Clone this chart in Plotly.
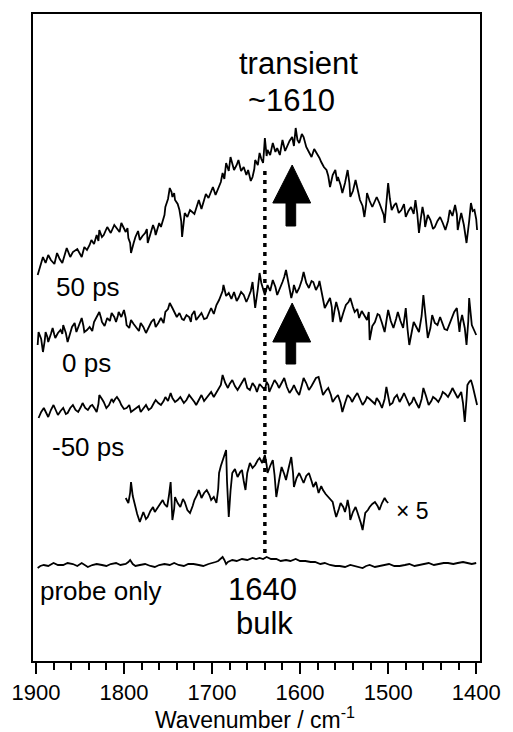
import plotly.graph_objects as go

# ---- data: (wavenumber cm^-1, signal in arbitrary stacked units) ----
trace_50ps = [
    (1898, 386), (1895, 396), (1892, 404), (1889, 398), (1886, 406), (1883, 401), (1879, 397), (1876, 408),
    (1873, 402), (1870, 398), (1867, 407), (1865, 413), (1861, 404), (1858, 409), (1853, 412), (1848, 404),
    (1845, 414), (1842, 411), (1839, 416), (1837, 421), (1834, 417), (1831, 426), (1829, 420), (1828, 431),
    (1825, 424), (1823, 426), (1819, 434), (1815, 428), (1811, 436), (1808, 433), (1805, 429), (1803, 438),
    (1800, 432), (1798, 429), (1796, 433), (1795, 423), (1793, 418), (1792, 408), (1789, 418), (1787, 424),
    (1784, 430), (1782, 421), (1779, 425), (1776, 428), (1774, 432), (1773, 418), (1770, 427), (1767, 436),
    (1765, 431), (1764, 426), (1762, 432), (1760, 438), (1758, 434), (1756, 441), (1754, 446), (1753, 454),
    (1750, 462), (1748, 473), (1746, 469), (1745, 464), (1743, 468), (1742, 461), (1739, 457), (1737, 451),
    (1735, 440), (1734, 424), (1732, 438), (1731, 448), (1728, 444), (1725, 451), (1720, 447), (1715, 461),
    (1712, 452), (1710, 458), (1707, 467), (1704, 463), (1701, 469), (1699, 474), (1696, 466), (1693, 473),
    (1690, 479), (1688, 488), (1686, 482), (1684, 498), (1681, 490), (1679, 504), (1677, 497), (1675, 491),
    (1672, 496), (1670, 501), (1667, 490), (1664, 494), (1661, 486), (1659, 491), (1656, 480), (1654, 484),
    (1652, 492), (1651, 501), (1648, 496), (1646, 508), (1644, 502), (1642, 498), (1641, 510), (1640, 523),
    (1638, 505), (1637, 511), (1634, 506), (1631, 518), (1628, 509), (1626, 513), (1623, 506), (1620, 521),
    (1617, 510), (1615, 514), (1612, 520), (1609, 524), (1607, 515), (1605, 533), (1603, 521), (1601, 518),
    (1598, 527), (1596, 524), (1594, 517), (1593, 514), (1590, 509), (1587, 504), (1584, 512), (1581, 508),
    (1578, 503), (1576, 499), (1573, 494), (1570, 491), (1568, 485), (1566, 474), (1563, 486), (1560, 491),
    (1558, 480), (1557, 484), (1554, 476), (1552, 468), (1549, 478), (1546, 491), (1544, 478), (1543, 464),
    (1540, 470), (1537, 481), (1534, 470), (1532, 461), (1529, 455), (1527, 444), (1525, 457), (1524, 468),
    (1521, 460), (1518, 454), (1515, 460), (1513, 464), (1510, 458), (1507, 451), (1505, 446), (1504, 438),
    (1502, 455), (1500, 478), (1498, 462), (1496, 451), (1493, 456), (1491, 458), (1488, 448), (1485, 451),
    (1482, 457), (1480, 444), (1477, 450), (1474, 454), (1471, 447), (1469, 461), (1467, 448), (1465, 428),
    (1463, 442), (1461, 454), (1459, 445), (1458, 434), (1455, 446), (1452, 441), (1449, 432), (1447, 434),
    (1444, 440), (1441, 444), (1438, 438), (1435, 431), (1432, 440), (1430, 451), (1427, 445), (1424, 456),
    (1422, 447), (1421, 431), (1419, 440), (1417, 448), (1414, 436), (1411, 418), (1408, 440), (1406, 458),
    (1404, 450), (1402, 451), (1400, 442), (1399, 431)]

trace_0ps = [
    (1898, 316), (1897, 329), (1894, 322), (1892, 309), (1890, 320), (1889, 329), (1887, 324), (1886, 319),
    (1883, 327), (1881, 333), (1879, 326), (1878, 323), (1875, 328), (1872, 331), (1870, 327), (1869, 336),
    (1866, 328), (1864, 319), (1861, 328), (1859, 334), (1856, 338), (1854, 329), (1851, 336), (1848, 343),
    (1846, 335), (1845, 329), (1842, 331), (1839, 334), (1836, 330), (1834, 339), (1831, 344), (1828, 349),
    (1826, 343), (1825, 339), (1822, 335), (1819, 343), (1816, 340), (1814, 348), (1811, 344), (1809, 339),
    (1807, 345), (1806, 349), (1803, 344), (1800, 351), (1798, 343), (1797, 336), (1794, 333), (1792, 341),
    (1789, 337), (1786, 333), (1783, 330), (1781, 338), (1778, 334), (1775, 328), (1772, 334), (1769, 339),
    (1766, 342), (1764, 334), (1761, 338), (1758, 343), (1755, 338), (1753, 349), (1750, 352), (1748, 358),
    (1745, 353), (1743, 349), (1740, 344), (1737, 348), (1734, 342), (1732, 341), (1729, 346), (1726, 344),
    (1724, 339), (1723, 346), (1720, 350), (1718, 341), (1715, 345), (1712, 348), (1709, 342), (1706, 343),
    (1703, 349), (1701, 353), (1698, 347), (1695, 356), (1692, 361), (1690, 366), (1688, 370), (1687, 376),
    (1684, 365), (1681, 368), (1678, 362), (1675, 369), (1672, 360), (1670, 363), (1667, 369), (1664, 366),
    (1661, 359), (1659, 363), (1656, 370), (1654, 379), (1652, 365), (1651, 353), (1648, 372), (1646, 388),
    (1644, 378), (1642, 373), (1640, 366), (1637, 376), (1634, 370), (1631, 381), (1628, 374), (1626, 366),
    (1623, 372), (1620, 379), (1618, 384), (1616, 391), (1613, 377), (1610, 363), (1608, 370), (1607, 376),
    (1604, 368), (1601, 373), (1598, 381), (1596, 389), (1593, 378), (1590, 373), (1587, 380), (1585, 379),
    (1582, 371), (1579, 376), (1578, 380), (1576, 369), (1574, 362), (1572, 353), (1569, 358), (1566, 363),
    (1564, 354), (1563, 339), (1561, 350), (1559, 359), (1556, 349), (1554, 339), (1551, 348), (1548, 356),
    (1545, 359), (1543, 363), (1540, 354), (1538, 349), (1535, 352), (1533, 343), (1530, 350), (1527, 346),
    (1524, 341), (1522, 349), (1521, 321), (1518, 335), (1515, 339), (1512, 347), (1510, 346), (1507, 338),
    (1504, 329), (1502, 340), (1500, 351), (1497, 340), (1494, 333), (1491, 342), (1489, 349), (1486, 340),
    (1483, 333), (1481, 346), (1480, 353), (1478, 332), (1476, 316), (1473, 330), (1471, 339), (1468, 334),
    (1465, 329), (1462, 345), (1460, 366), (1457, 340), (1455, 323), (1452, 333), (1450, 346), (1447, 338),
    (1444, 336), (1441, 344), (1439, 339), (1436, 332), (1433, 331), (1430, 338), (1428, 343), (1425, 349),
    (1422, 353), (1420, 340), (1419, 329), (1418, 338), (1416, 346), (1413, 333), (1411, 316), (1409, 340),
    (1408, 363), (1406, 345), (1405, 336), (1402, 330), (1400, 326)]

trace_m50ps = [
    (1897, 243), (1894, 249), (1891, 253), (1888, 247), (1886, 244), (1883, 251), (1880, 256), (1877, 250),
    (1875, 246), (1872, 250), (1869, 253), (1866, 247), (1864, 248), (1861, 253), (1858, 256), (1855, 251),
    (1852, 249), (1849, 254), (1847, 258), (1844, 253), (1841, 251), (1838, 255), (1836, 256), (1833, 252),
    (1831, 249), (1829, 257), (1828, 266), (1825, 262), (1823, 259), (1820, 253), (1817, 256), (1814, 262),
    (1812, 259), (1810, 262), (1808, 264), (1805, 260), (1803, 256), (1800, 252), (1797, 253), (1794, 256),
    (1792, 249), (1789, 251), (1786, 253), (1783, 255), (1781, 249), (1778, 252), (1775, 256), (1772, 251),
    (1769, 253), (1766, 258), (1764, 261), (1761, 258), (1758, 256), (1755, 260), (1753, 264), (1750, 260),
    (1747, 268), (1745, 263), (1742, 259), (1739, 261), (1736, 264), (1732, 258), (1729, 261), (1726, 266),
    (1723, 263), (1720, 259), (1718, 256), (1715, 261), (1712, 266), (1709, 260), (1706, 263), (1703, 266),
    (1701, 269), (1698, 264), (1695, 268), (1692, 272), (1690, 276), (1688, 286), (1685, 278), (1682, 273),
    (1680, 277), (1677, 281), (1674, 275), (1671, 271), (1668, 276), (1666, 279), (1663, 283), (1660, 273),
    (1657, 271), (1654, 278), (1651, 274), (1649, 269), (1646, 277), (1643, 274), (1640, 271), (1638, 279),
    (1636, 276), (1635, 269), (1632, 276), (1629, 281), (1626, 277), (1624, 273), (1621, 278), (1618, 283),
    (1615, 274), (1612, 268), (1609, 272), (1607, 276), (1604, 270), (1601, 266), (1598, 276), (1596, 283),
    (1593, 278), (1590, 271), (1587, 275), (1585, 278), (1582, 283), (1579, 284), (1576, 274), (1574, 266),
    (1571, 270), (1568, 273), (1565, 266), (1563, 259), (1560, 263), (1557, 266), (1554, 258), (1552, 249),
    (1549, 258), (1546, 266), (1543, 263), (1541, 259), (1538, 264), (1535, 268), (1532, 262), (1529, 256),
    (1526, 260), (1524, 264), (1521, 262), (1518, 259), (1515, 257), (1513, 263), (1510, 259), (1507, 253),
    (1504, 262), (1502, 274), (1500, 265), (1498, 256), (1495, 258), (1493, 263), (1490, 266), (1487, 259),
    (1484, 264), (1482, 268), (1479, 262), (1476, 256), (1473, 259), (1471, 264), (1468, 258), (1465, 253),
    (1462, 262), (1460, 273), (1457, 265), (1454, 256), (1451, 260), (1449, 264), (1446, 262), (1443, 259),
    (1440, 264), (1438, 269), (1435, 267), (1432, 264), (1429, 269), (1427, 273), (1424, 268), (1421, 263),
    (1419, 266), (1417, 269), (1415, 258), (1413, 239), (1411, 262), (1410, 276), (1408, 279), (1406, 281),
    (1404, 275), (1402, 266), (1400, 260), (1399, 256)]

trace_x5 = [
    (1798, 163), (1796, 160), (1795, 158), (1793, 168), (1792, 179), (1790, 165), (1787, 154), (1785, 147),
    (1782, 139), (1780, 144), (1778, 149), (1775, 142), (1773, 144), (1770, 150), (1767, 154), (1765, 149),
    (1762, 153), (1759, 157), (1756, 161), (1754, 157), (1751, 154), (1749, 165), (1747, 179), (1746, 160),
    (1745, 141), (1743, 152), (1742, 164), (1739, 158), (1736, 154), (1733, 162), (1731, 159), (1728, 151),
    (1725, 148), (1722, 155), (1720, 161), (1717, 166), (1715, 171), (1713, 166), (1712, 163), (1709, 168),
    (1706, 171), (1703, 166), (1701, 161), (1698, 164), (1695, 158), (1693, 172), (1692, 188), (1690, 195),
    (1688, 201), (1686, 206), (1684, 211), (1683, 180), (1681, 144), (1679, 170), (1677, 188), (1674, 192),
    (1671, 184), (1668, 189), (1666, 191), (1664, 180), (1662, 171), (1660, 188), (1657, 198), (1654, 193),
    (1651, 196), (1648, 201), (1646, 203), (1643, 198), (1640, 206), (1638, 196), (1637, 188), (1634, 195),
    (1631, 201), (1629, 186), (1627, 164), (1624, 180), (1621, 194), (1618, 187), (1616, 181), (1613, 193),
    (1610, 204), (1608, 188), (1607, 174), (1604, 183), (1601, 188), (1598, 182), (1596, 178), (1593, 185),
    (1590, 188), (1587, 180), (1585, 174), (1582, 179), (1579, 168), (1576, 175), (1574, 171), (1571, 167),
    (1568, 164), (1565, 162), (1563, 159), (1561, 151), (1559, 144), (1556, 152), (1554, 158), (1551, 154),
    (1549, 149), (1547, 156), (1546, 161), (1544, 152), (1543, 141), (1540, 149), (1537, 154), (1535, 149),
    (1533, 144), (1531, 138), (1529, 131), (1527, 140), (1526, 148), (1523, 151), (1521, 154), (1518, 157),
    (1515, 159), (1512, 155), (1510, 151), (1507, 158), (1504, 163), (1502, 160), (1500, 158)]

trace_probe = [
    (1898, 93), (1895, 95), (1891, 96), (1886, 95), (1880, 98), (1875, 96), (1869, 96), (1864, 98),
    (1858, 97), (1853, 95), (1848, 98), (1845, 96), (1841, 94), (1836, 96), (1831, 97), (1825, 96),
    (1820, 95), (1815, 97), (1809, 98), (1804, 96), (1798, 97), (1795, 99), (1793, 101), (1790, 97),
    (1787, 95), (1782, 96), (1776, 97), (1770, 95), (1765, 94), (1760, 96), (1754, 97), (1748, 96),
    (1743, 98), (1738, 96), (1732, 95), (1727, 97), (1721, 97), (1715, 96), (1710, 95), (1704, 97),
    (1699, 98), (1696, 99), (1693, 100), (1690, 102), (1688, 104), (1686, 101), (1684, 97), (1682, 99),
    (1680, 100), (1677, 101), (1672, 100), (1666, 102), (1660, 101), (1654, 103), (1650, 102), (1646, 103),
    (1642, 102), (1638, 104), (1633, 102), (1627, 102), (1622, 100), (1616, 101), (1611, 100), (1605, 102),
    (1600, 100), (1594, 100), (1588, 99), (1583, 99), (1577, 97), (1572, 98), (1566, 96), (1560, 95),
    (1555, 95), (1549, 94), (1543, 96), (1538, 95), (1533, 94), (1529, 93), (1525, 95), (1521, 96),
    (1515, 94), (1510, 95), (1504, 96), (1499, 97), (1493, 95), (1487, 95), (1481, 96), (1476, 97),
    (1470, 95), (1465, 96), (1459, 97), (1454, 98), (1448, 96), (1443, 97), (1437, 98), (1432, 98),
    (1426, 97), (1421, 98), (1415, 99), (1410, 98), (1405, 97), (1400, 98)]

x_ticks = [1900, 1800, 1700, 1600, 1500, 1400]
bulk_band = 1640

FONT = "Liberation Sans, Arial, Helvetica, sans-serif"

fig = go.Figure()
for tr in [trace_50ps, trace_0ps, trace_m50ps, trace_x5, trace_probe]:
    xs = [p[0] for p in tr]
    ys = [p[1] for p in tr]
    fig.add_trace(go.Scatter(x=xs, y=ys, mode="lines",
                             line=dict(color="black", width=1.8),
                             showlegend=False, hoverinfo="skip"))

# dotted marker line at the bulk band
fig.add_shape(type="line", xref="x", yref="y", x0=bulk_band, x1=bulk_band, y0=108, y1=494,
              line=dict(color="black", width=3.5, dash="4px,5px"))

# filled arrows
def arrow(xc, ytip, ybase, ybot):
    return (f"M {xc},{ytip} L {xc+22},{ybase} L {xc+7},{ybase} L {xc+7},{ybot} "
            f"L {xc-4},{ybot} L {xc-4},{ybase} L {xc-21},{ybase} Z")

fig.add_shape(type="path", xref="x", yref="y", path=arrow(1609, 496, 458, 435),
              fillcolor="black", line=dict(color="black", width=1))
fig.add_shape(type="path", xref="x", yref="y", path=arrow(1609, 358, 319, 297),
              fillcolor="black", line=dict(color="black", width=1))

def label(text, x, y, size):
    fig.add_annotation(x=x, y=y, xref="x", yref="y", text=text, showarrow=False,
                       font=dict(family=FONT, size=size, color="black"),
                       xanchor="center", yanchor="middle")

label("transient", 1602, 598, 31)
label("~1610", 1610, 561, 31)
label("50 ps", 1841, 374, 26)
label("0 ps", 1842, 298, 26)
label("-50 ps", 1841, 214, 26)
label("× 5", 1472, 150, 23)
label("probe only", 1827, 70, 26)
label("1640", 1643, 72, 31)
label("bulk", 1640, 38, 31)

fig.add_annotation(x=0.497, y=-0.088, xref="paper", yref="paper",
                   text="Wavenumber / cm<sup>-1</sup>", showarrow=False,
                   font=dict(family=FONT, size=23, color="black"),
                   xanchor="center", yanchor="middle")

fig.update_layout(
    width=513, height=732,
    margin=dict(l=32, r=22, t=14, b=71),
    paper_bgcolor="white", plot_bgcolor="white",
    xaxis=dict(range=[1903.3, 1395.7], showline=True, mirror=True, linecolor="black", linewidth=2,
               showgrid=False, zeroline=False, ticks="outside", ticklen=11, tickwidth=2,
               tickcolor="black", tickvals=x_ticks,
               tickfont=dict(family=FONT, size=22, color="black"),
               minor=dict(ticks="outside", ticklen=7, tickwidth=1.5, tickcolor="black",
                          dtick=20, tick0=1400, showgrid=False)),
    yaxis=dict(range=[0, 647], showline=True, mirror=True, linecolor="black", linewidth=2,
               showgrid=False, zeroline=False, showticklabels=False, ticks=""),
)

fig.write_html("out.html")
